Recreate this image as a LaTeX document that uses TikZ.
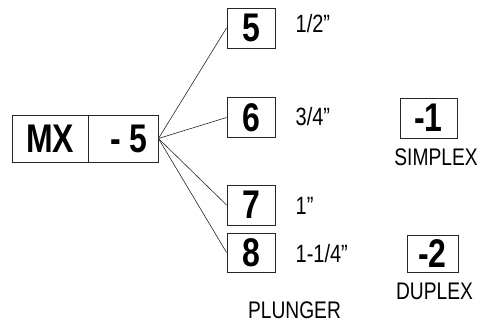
\documentclass[tikz,border=0pt]{standalone}
\usepackage{fontspec}
\setmainfont{Liberation Sans}[FakeStretch=0.8]
\usetikzlibrary{positioning}

\begin{document}
\begin{tikzpicture}[
    x=1pt, y=-1pt,
    % Box styles
    codebox/.style={rectangle, draw=black!85, line width=0.9pt, inner sep=0pt,
        minimum height=47pt, font=\fontsize{40}{40}\selectfont\bfseries},
    digitbox/.style={rectangle, draw=black!85, line width=0.9pt, inner sep=0pt,
        minimum width=48pt, minimum height=40pt, font=\fontsize{40}{40}\selectfont\bfseries},
    % Text styles
    size/.style={anchor=west, inner sep=0pt, font=\fontsize{25}{25}\selectfont},
    caption/.style={inner sep=0pt, font=\fontsize{24}{24}\selectfont},
    % Line style
    fan/.style={line width=0.6pt, draw=black!85}
]
    \useasboundingbox (0,0) rectangle (487,334);

    % Model code
    \node[codebox, minimum width=76pt] (mx) at (50,138.5) {MX\hspace{14pt}};
    \node[codebox, minimum width=70pt] (dash) at (123,138.5) {\hspace{12pt}- 5};

    % Plunger sizes
    \node[digitbox] (d5) at (251,28) {5};
    \node[digitbox] (d6) at (251,117.5) {6};
    \node[digitbox] (d7) at (251,205) {7};
    \node[digitbox, minimum height=39pt] (d8) at (251,252.5) {8};
    \node[size, right=20pt of d5, yshift=4pt] (l5) {1/2”};
    \node[size, right=20pt of d6, yshift=1pt] (l6) {3/4”};
    \node[size, right=20pt of d7, yshift=-1pt] (l7) {1”};
    \node[size, right=20pt of d8, yshift=-1pt] (l8) {1-1/4”};
    \node[caption] (plunger) at (294.5,310) {PLUNGER};

    % Simplex / duplex
    \node[digitbox, minimum width=57pt] (s1) at (428.5,118) {-1};
    \node[caption] (simplex) at (436,157) {SIMPLEX};
    \node[digitbox, minimum width=51pt, minimum height=37pt] (s2) at (432.5,253.5) {-2};
    \node[caption] (duplex) at (434.5,291) {DUPLEX};

    % Fan lines
    \coordinate (hub) at (dash.east);
    \foreach \d in {d5,d6,d7,d8}
        \draw[fan] (hub) -- (\d.west);
\end{tikzpicture}
\end{document}
